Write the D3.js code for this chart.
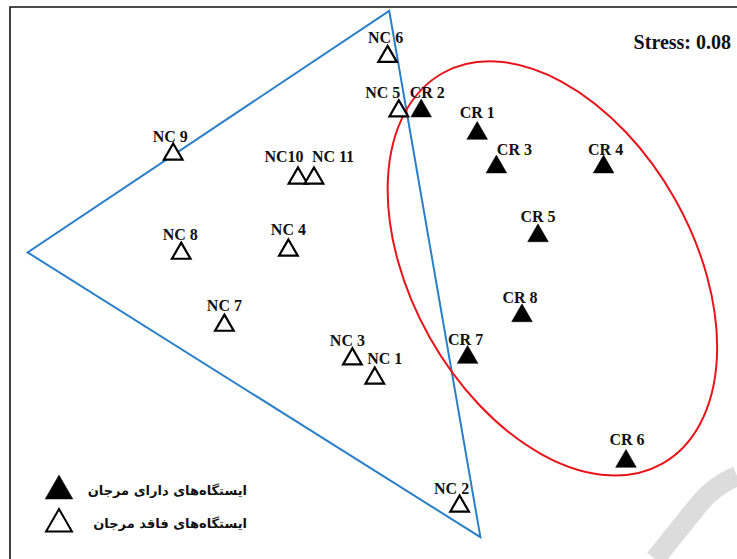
<!DOCTYPE html>
<html>
<head>
<meta charset="utf-8">
<script src="https://cdn.jsdelivr.net/npm/d3@7"></script>
<style>
  body { margin: 0; background: #fff; }
  svg { display: block; }
</style>
</head>
<body>
<div id="chart"></div>
<script>
// NMDS station scores
var stations = ["NC 6", "NC 5", "CR 2", "CR 1", "CR 3", "CR 4", "CR 5", "CR 8", "CR 7", "CR 6",
  "NC 9", "NC10", "NC 11", "NC 8", "NC 4", "NC 7", "NC 3", "NC 1", "NC 2"];
var dim1 = [0.11, 0.18, 0.32, 0.67, 0.79, 1.46, 1.05, 0.95, 0.61, 1.60,
  -1.23, -0.45, -0.35, -1.18, -0.51, -0.91, -0.11, 0.03, 0.56];
var dim2 = [1.34, 1.00, 1.00, 0.86, 0.65, 0.65, 0.22, -0.28, -0.54, -1.19,
  0.73, 0.58, 0.58, 0.11, 0.13, -0.34, -0.55, -0.67, -1.47];
var coral = [false, false, true, true, true, true, true, true, true, true,
  false, false, false, false, false, false, false, false, false];

// hull of the non-coral group and the coral ellipse, in NMDS units
var hullX = [0.12, -2.14, 0.69];
var hullY = [1.62, 0.11, -1.67];
var ellipse = { cx: 1.14, cy: 0.01, rx: 1.40, ry: 0.88, angle: 60.6 };

var stressLabel = "Stress: 0.08";
var legendLabels = ["ایستگاه‌های دارای مرجان", "ایستگاه‌های فاقد مرجان"];

// label offsets (px) relative to each triangle
var labelOffset = {
  "NC 6": [-2, -13], "NC 5": [-16, -12], "CR 2": [6, -12], "CR 1": [0, -14],
  "CR 3": [18, -11], "CR 4": [2, -11], "CR 5": [0, -13], "CR 8": [-2, -12],
  "CR 7": [-2, -11], "CR 6": [1, -15], "NC 9": [-3, -11], "NC10": [-14, -15],
  "NC 11": [19, -15], "NC 8": [-1, -12], "NC 4": [0, -14], "NC 7": [0, -13],
  "NC 3": [-5, -12], "NC 1": [10, -13], "NC 2": [-8, -11]
};

var svgWidth = 737;
var svgHeight = 559;

var svg = d3.select("#chart")
  .append("svg")
  .attr("width", svgWidth)
  .attr("height", svgHeight);

// same px per unit on both axes
var x = d3.scaleLinear().domain([-2, 2]).range([50, 690]);
var y = d3.scaleLinear().domain([-1.5, 1.5]).range([510, 30]);

// watermark fragment
svg.append("path")
  .attr("d", "M 655 559 L 700 503 Q 714 486 737 476")
  .attr("fill", "none")
  .attr("stroke", "#dcdcdc")
  .attr("stroke-width", 20);

// frame (top and left only)
svg.append("path")
  .attr("d", "M 10 559 L 10 7 L 737 7")
  .attr("fill", "none")
  .attr("stroke", "#111")
  .attr("stroke-width", 1.6);

// blue hull
var hullPts = hullX.map((v, i) => [x(v), y(hullY[i])]);
svg.append("polygon")
  .attr("points", hullPts.map(p => p.join(",")).join(" "))
  .attr("fill", "none")
  .attr("stroke", "#2a80c8")
  .attr("stroke-width", 2);

// red ellipse
svg.append("ellipse")
  .attr("cx", x(ellipse.cx))
  .attr("cy", y(ellipse.cy))
  .attr("rx", x(ellipse.rx) - x(0))
  .attr("ry", y(0) - y(ellipse.ry))
  .attr("transform", `rotate(${ellipse.angle}, ${x(ellipse.cx)}, ${y(ellipse.cy)})`)
  .attr("fill", "none")
  .attr("stroke", "#e8141a")
  .attr("stroke-width", 2);

var data = stations.map((s, i) => ({ name: s, x: dim1[i], y: dim2[i], coral: coral[i] }));

var filledSym = d3.symbol(d3.symbolTriangle, 185);
var openSym = d3.symbol(d3.symbolTriangle, 150);

svg.append("g").selectAll("path")
  .data(data)
  .join("path")
  .attr("d", d => d.coral ? filledSym() : openSym())
  .attr("transform", d => `translate(${x(d.x)}, ${y(d.y) + 1})`)
  .attr("fill", d => d.coral ? "#000" : "#fff")
  .attr("stroke", "#000")
  .attr("stroke-width", d => d.coral ? 0.5 : 2.2);

svg.append("g").selectAll("text")
  .data(data)
  .join("text")
  .attr("x", d => x(d.x) + labelOffset[d.name][0])
  .attr("y", d => y(d.y) + labelOffset[d.name][1])
  .attr("text-anchor", "middle")
  .attr("font-family", "'Liberation Serif', 'Times New Roman', serif")
  .attr("font-weight", "bold")
  .attr("font-size", 16)
  .attr("fill", "#111")
  .text(d => d.name);

// stress value
svg.append("text")
  .attr("x", 731)
  .attr("y", 49)
  .attr("text-anchor", "end")
  .attr("font-family", "'Liberation Serif', 'Times New Roman', serif")
  .attr("font-weight", "bold")
  .attr("font-size", 20)
  .attr("fill", "#111")
  .text(stressLabel);

// legend
var legend = svg.append("g");
var legendSym = [d3.symbol(d3.symbolTriangle, 330), d3.symbol(d3.symbolTriangle, 290)];
legendLabels.forEach((lab, i) => {
  var ly = 489 + i * 33;
  legend.append("path")
    .attr("d", legendSym[i]())
    .attr("transform", `translate(59, ${ly + 2})`)
    .attr("fill", i === 0 ? "#000" : "#fff")
    .attr("stroke", "#000")
    .attr("stroke-width", i === 0 ? 0.5 : 2);
  legend.append("text")
    .attr("x", 247)
    .attr("y", ly + 6)
    .attr("text-anchor", "end")
    .attr("font-family", "'DejaVu Sans', sans-serif")
    .attr("font-weight", "bold")
    .attr("font-size", 13)
    .attr("fill", "#111")
    .text(lab);
});
</script>
</body>
</html>
